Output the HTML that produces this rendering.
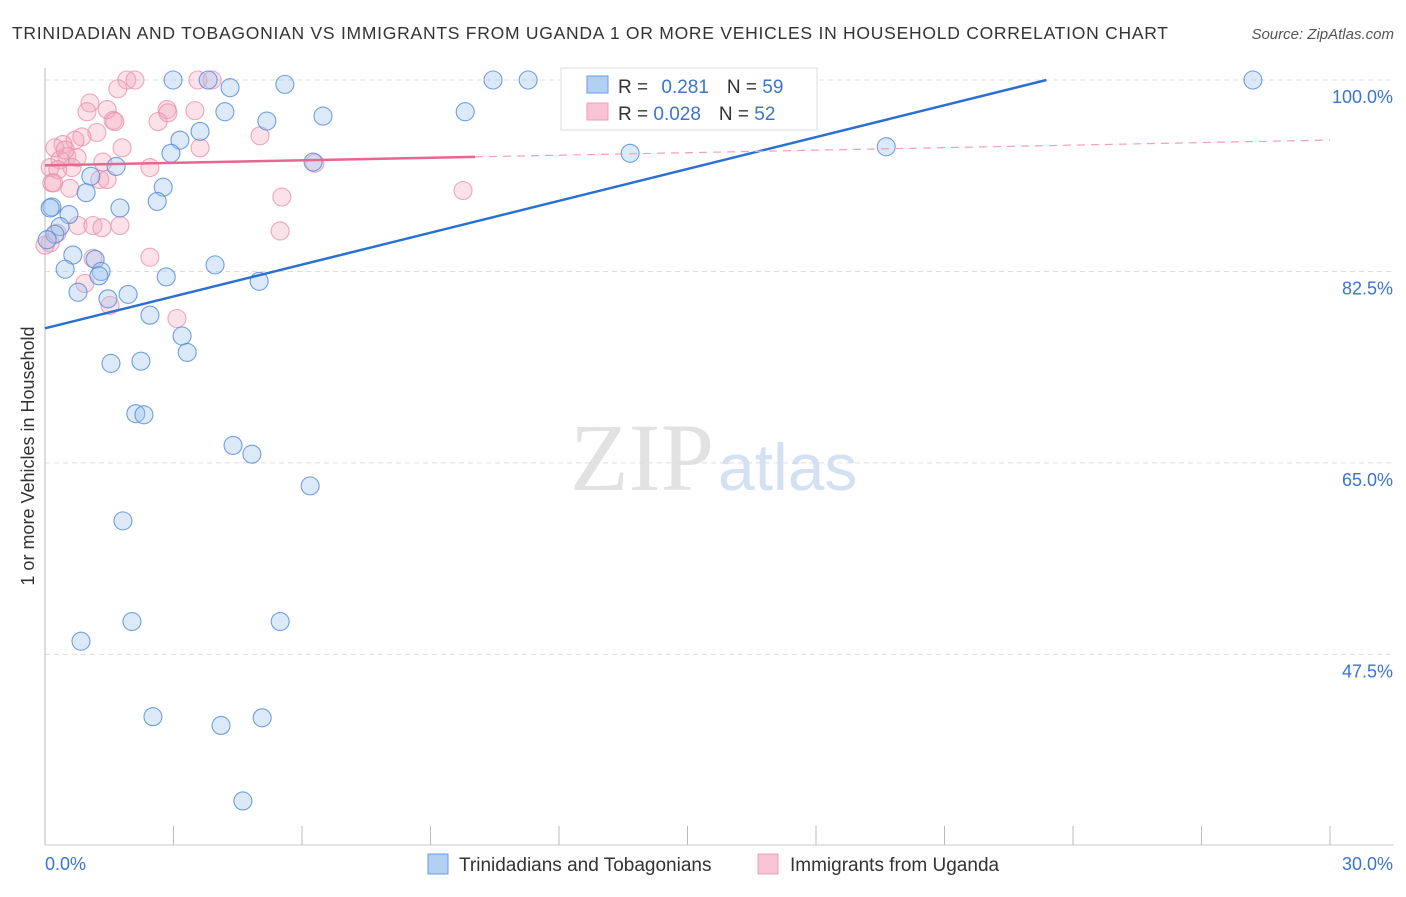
<!DOCTYPE html>
<html><head><meta charset="utf-8"><style>
body{margin:0;background:#fff;font-family:"Liberation Sans",sans-serif;}
svg text{font-family:"Liberation Sans",sans-serif;}
</style></head><body>
<svg width="1406" height="892" viewBox="0 0 1406 892">
<text x="12" y="39" font-size="17.5" fill="#333" textLength="1156" lengthAdjust="spacing">TRINIDADIAN AND TOBAGONIAN VS IMMIGRANTS FROM UGANDA 1 OR MORE VEHICLES IN HOUSEHOLD CORRELATION CHART</text>
<text x="1394" y="39" font-size="15" fill="#555" text-anchor="end" font-style="italic">Source: ZipAtlas.com</text>
<text x="714" y="490" font-size="96" fill="#e2e2e2" text-anchor="end" style="font-family:'Liberation Serif',serif">ZIP</text>
<text x="718" y="490" font-size="66" fill="#d3e1f3">atlas</text>
<g id="grid"></g>
<g id="axes"></g>
<g id="pts"></g>
<g id="trends"></g>
<text transform="translate(34,456) rotate(-90)" font-size="18" fill="#333" text-anchor="middle">1 or more Vehicles in Household</text>
<g>
<rect x="561" y="68" width="256" height="62" fill="#fff" stroke="#ddd"/>
<rect x="587" y="76" width="21" height="17" fill="#b3cff3" stroke="#6b9de0"/>
<text x="618" y="93" font-size="19" fill="#333">R = <tspan fill="#3a74d0" dx="8">0.281</tspan><tspan dx="18">N = </tspan><tspan fill="#3a74d0">59</tspan></text>
<rect x="587" y="103" width="21" height="17" fill="#f8c3d2" stroke="#ee9fb8"/>
<text x="618" y="120" font-size="19" fill="#333">R = <tspan fill="#3a74d0">0.028</tspan><tspan dx="18">N = </tspan><tspan fill="#3a74d0">52</tspan></text>
</g>
<g>
<rect x="428" y="854" width="20" height="20" fill="#b3cff3" stroke="#6b9de0"/>
<text x="459" y="871" font-size="19" fill="#333">Trinidadians and Tobagonians</text>
<rect x="758" y="854" width="20" height="20" fill="#f8c3d2" stroke="#ee9fb8"/>
<text x="790" y="871" font-size="19" fill="#333">Immigrants from Uganda</text>
</g>
</svg>
<script>
const xTicks=[0,3,6,9,12,15,18,21,24,27,30];
const yTicks=[100,82.5,65,47.5];
const blueX=[2.99,3.81,10.46,11.28,28.2,12.56,5.60,4.32,4.20,6.49,5.18,9.81,3.62,3.15,2.94,13.66,19.64,6.26,1.66,1.07,2.76,0.96,2.62,0.16,1.75,0.56,0.35,0.23,0.65,0.47,1.17,1.31,1.26,3.97,2.83,5.0,0.77,1.94,1.47,2.45,3.2,3.32,1.54,2.24,2.12,2.31,4.39,4.83,6.19,1.82,2.03,5.49,0.84,2.52,4.11,5.07,4.62,0.12,0.05];
const blueY=[100,100,100,100,100,99.45,99.6,99.3,97.1,96.7,96.25,97.1,95.3,94.5,93.3,93.3,93.9,92.5,92.1,91.2,90.2,89.7,88.9,88.4,88.3,87.7,86.6,85.9,84.0,82.7,83.6,82.5,82.1,83.1,82.0,81.6,80.6,80.4,80.0,78.5,76.6,75.1,74.1,74.3,69.5,69.4,66.6,65.8,62.9,59.7,50.5,50.5,48.7,41.8,41.0,41.7,34.1,88.3,85.4];
const pinkX=[1.91,2.10,1.70,3.57,3.90,1.05,0.98,1.45,1.59,1.63,2.85,2.87,2.64,3.50,1.21,0.86,0.70,0.42,0.23,1.80,3.62,5.02,0.51,0.35,0.75,1.35,0.12,0.63,0.30,6.30,2.45,1.28,1.45,0.16,0.58,5.53,5.49,0.77,1.12,1.33,1.75,0.12,0.28,2.45,1.12,0.93,1.52,3.08,9.76,0,0.47,0.2];
const pinkY=[100,100,99.2,100,100,97.9,97.1,97.3,96.3,96.2,97.3,97.0,96.2,97.2,95.2,94.8,94.5,94.1,93.8,93.8,93.8,94.9,93.0,92.7,92.9,92.5,92.0,92.0,91.8,92.4,92.0,90.9,90.9,90.6,90.1,89.3,86.2,86.7,86.7,86.5,86.7,85.1,86.0,83.8,83.7,81.4,79.4,78.2,89.9,84.9,93.6,90.6];
const blueTrend=[77.3,0.971];
const pinkTrend=[92.2,0.077];
const pinkSolidEnd=10.04;
const X=v=>45+v/30*1285, Y=v=>80+(100-v)*10.94;
const NS='http://www.w3.org/2000/svg';
function mk(t,a,p){const e=document.createElementNS(NS,t);for(const k in a)e.setAttribute(k,a[k]);p.appendChild(e);return e;}
const grid=document.getElementById('grid'),axes=document.getElementById('axes'),pts=document.getElementById('pts'),tr=document.getElementById('trends');
yTicks.forEach(v=>{
const l=mk('line',{x1:45,x2:1394,y1:Y(v),y2:Y(v),stroke:'#ddd','stroke-dasharray':'5,4'},grid);


const t=mk('text',{x:1393,y:Y(v)+23,'font-size':18,fill:'#3a74d0','text-anchor':'end'},grid);
t.textContent=v.toFixed(1)+'%';


});
const la=mk('line',{x1:45,x2:45,y1:68,y2:845,stroke:'#bbb'},axes);


const ba=mk('line',{x1:45,x2:1394,y1:845,y2:845,stroke:'#ccc'},axes);


xTicks.forEach(v=>{
const l=mk('line',{x1:X(v),x2:X(v),y1:826,y2:845,stroke:'#bbb'},axes);


});
[[0,'start'],[30,'end']].forEach(([v,a])=>{
const t=mk('text',{x:X(v)+(v?63:0),y:870,'font-size':18,fill:'#3a74d0','text-anchor':a},axes);
t.textContent=v.toFixed(1)+'%';


});
pinkX.forEach((x,i)=>{
const c=mk('circle',{cx:X(x),cy:Y(pinkY[i]),r:9,fill:'rgba(244,164,188,0.32)',stroke:'rgba(232,140,170,0.75)','stroke-width':1.1},pts);


});
blueX.forEach((x,i)=>{
const c=mk('circle',{cx:X(x),cy:Y(blueY[i]),r:9,fill:'rgba(160,196,240,0.38)',stroke:'rgba(80,138,215,0.8)','stroke-width':1.1},pts);


});
const bEnd=(100-blueTrend[0])/blueTrend[1];
const bl=mk('line',{x1:X(0),y1:Y(blueTrend[0]),x2:X(bEnd),y2:Y(100),stroke:'#2a6fd6','stroke-width':2.5},tr);


const pv=x=>pinkTrend[0]+pinkTrend[1]*x;
const pl=mk('line',{x1:X(0),y1:Y(pv(0)),x2:X(pinkSolidEnd),y2:Y(pv(pinkSolidEnd)),stroke:'#e8668f','stroke-width':2.5},tr);


const pd=mk('line',{x1:X(pinkSolidEnd),y1:Y(pv(pinkSolidEnd)),x2:X(30),y2:Y(pv(30)),stroke:'#f0a0b8','stroke-width':1.2,'stroke-dasharray':'8,6'},tr);


</script>
</body></html>
